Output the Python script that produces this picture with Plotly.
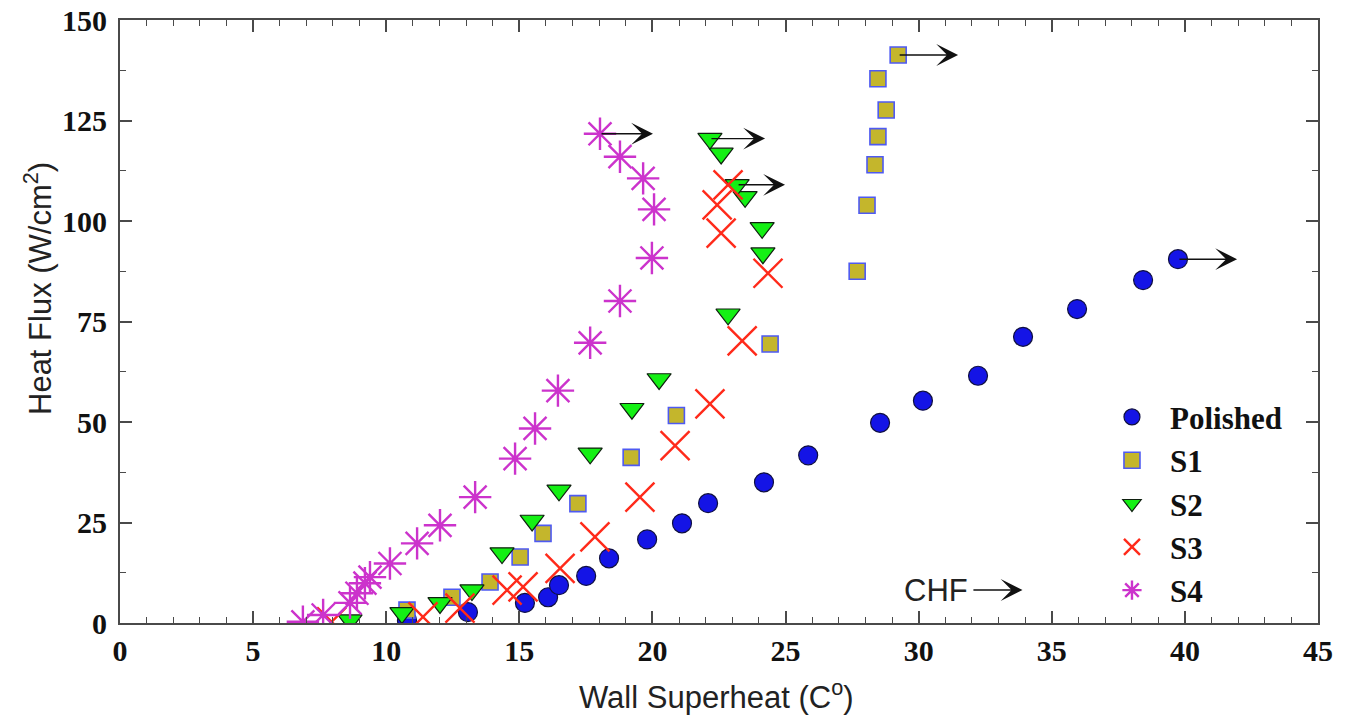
import plotly.graph_objects as go

# ---------------- data ----------------
pol_x = [10.78, 13.07, 15.21, 16.08, 16.49, 17.51, 18.37, 19.80, 21.11, 22.09,
         24.19, 25.85, 28.55, 30.16, 32.23, 33.92, 35.95, 38.43, 39.74]
pol_y = [0.7, 2.7, 5.0, 6.4, 9.4, 11.7, 16.1, 20.8, 24.8, 29.8,
         35.0, 41.7, 49.8, 55.3, 61.5, 71.2, 78.1, 85.3, 90.5]

s1_x = [10.78, 12.47, 13.90, 15.03, 15.89, 17.20, 19.20, 20.90, 24.42, 27.69,
        28.06, 28.36, 28.47, 28.78, 28.47, 29.23]
s1_y = [3.2, 6.4, 10.2, 16.4, 22.3, 29.7, 41.2, 51.6, 69.4, 87.5,
        103.9, 114.0, 121.0, 127.6, 135.4, 141.3]

s2_x = [8.64, 10.59, 12.02, 13.22, 14.35, 15.48, 16.49, 17.66, 19.23, 20.25,
        22.84, 24.15, 24.12, 23.48, 23.18, 22.58, 22.16]
s2_y = [0.7, 2.5, 5.0, 8.2, 17.4, 25.5, 33.0, 42.2, 53.3, 60.7,
        76.8, 92.0, 98.3, 106.0, 109.0, 116.8, 120.5]

s3_x = [7.95, 11.38, 12.77, 14.54, 15.14, 16.53, 17.84, 19.53, 20.85, 22.16,
        23.37, 24.34, 22.58, 22.43, 22.84]
s3_y = [0.3, 1.5, 3.7, 8.2, 9.0, 13.6, 21.4, 31.3, 44.1, 54.5,
        70.2, 87.0, 97.0, 104.0, 109.0]

s4_x = [6.87, 7.63, 8.64, 8.90, 9.20, 9.39, 10.14, 11.16, 12.02, 13.34,
        14.84, 15.59, 16.45, 17.66, 18.78, 19.98, 20.06, 19.65, 18.78, 18.03]
s4_y = [0.3, 2.0, 5.0, 7.4, 9.9, 11.4, 14.8, 19.8, 24.3, 31.3,
        40.9, 48.4, 57.8, 69.7, 80.1, 90.8, 102.9, 110.6, 116.0, 121.7]

series_names = ["Polished", "S1", "S2", "S3", "S4"]

# CHF arrows: (series name, index of the point the arrow starts from, arrow head x)
arrow_series = ["Polished", "S1", "S2", "S2", "S4"]
arrow_index = [-1, -1, -1, -3, -1]
arrow_head_x = [41.96, 31.48, 24.23, 24.98, 20.02]

# "CHF ->" key
chf_label = "CHF"
chf_text_x = 30.65
chf_y = 8.2
chf_arrow_x0 = 32.0
chf_arrow_x1 = 33.9

x_ticks = [0, 5, 10, 15, 20, 25, 30, 35, 40, 45]
y_ticks = [0, 25, 50, 75, 100, 125, 150]

x_title = "Wall Superheat (C<sup>o</sup>)"
y_title = "Heat Flux (W/cm<sup>2</sup>)"

# ---------------- figure ----------------
data = {
    "Polished": (pol_x, pol_y),
    "S1": (s1_x, s1_y),
    "S2": (s2_x, s2_y),
    "S3": (s3_x, s3_y),
    "S4": (s4_x, s4_y),
}

styles = {
    "Polished": dict(symbol="circle", size=19, color="#1414E6",
                     line=dict(color="#101040", width=1.2)),
    "S1": dict(symbol="square", size=16, color="#C4B62C",
               line=dict(color="#4E5AF2", width=1.6)),
    "S2": dict(symbol="triangle-down", size=21, color="#14F014",
               line=dict(color="#102010", width=1.2)),
    "S3": dict(symbol="x-thin-open", size=29, color="#FF2A1A",
               line=dict(color="#FF2A1A", width=2.4)),
    "S4": dict(symbol="asterisk-open", size=27, color="#CC33CC",
               line=dict(color="#CC33CC", width=2.4)),
}

fig = go.Figure()
for name in series_names:
    xs, ys = data[name]
    fig.add_trace(go.Scatter(x=xs, y=ys, mode="markers", name=f"<b>{name}</b>",
                             marker=styles[name]))

arrow_style = dict(xref="x", yref="y", axref="x", ayref="y", text="",
                   showarrow=True, arrowhead=3, arrowsize=2.6, arrowwidth=1.4,
                   arrowcolor="#111111", standoff=0, startstandoff=0)

annotations = []
for sname, idx, hx in zip(arrow_series, arrow_index, arrow_head_x):
    xs, ys = data[sname]
    annotations.append(dict(x=hx, y=ys[idx], ax=xs[idx], ay=ys[idx], **arrow_style))

annotations.append(dict(x=chf_arrow_x1, y=chf_y, ax=chf_arrow_x0, ay=chf_y, **arrow_style))
annotations.append(dict(
    x=chf_text_x, y=chf_y, xref="x", yref="y", text=chf_label,
    xanchor="center", yanchor="middle", showarrow=False,
    font=dict(family="Liberation Sans, Arial", size=31, color="#222222")))

# axis titles
annotations.append(dict(
    x=0.4975, y=-0.119, xref="paper", yref="paper", xanchor="center", yanchor="middle",
    text=x_title, showarrow=False,
    font=dict(family="Liberation Sans, Arial", size=31, color="#222222")))
annotations.append(dict(
    x=-0.0684, y=0.554, xref="paper", yref="paper", textangle=-90,
    xanchor="center", yanchor="middle",
    text=y_title, showarrow=False,
    font=dict(family="Liberation Sans, Arial", size=31, color="#222222")))

axis_common = dict(
    showline=True, linecolor="#4a4a4a", linewidth=2, mirror="ticks",
    ticks="inside", ticklen=12, tickwidth=1.5, tickcolor="#4a4a4a",
    showgrid=False, zeroline=False, automargin=False, ticklabeloverflow="allow",
    tickfont=dict(family="Liberation Serif, Times New Roman", size=30, color="#111111"),
)

fig.update_layout(
    width=1357, height=720,
    margin=dict(l=112, r=47, t=12, b=105, autoexpand=False),
    paper_bgcolor="white", plot_bgcolor="white",
    showlegend=True,
    legend=dict(x=0.813, y=0.386, xanchor="left", yanchor="top",
                bgcolor="rgba(0,0,0,0)", borderwidth=0, itemwidth=66,
                font=dict(family="Liberation Serif, Times New Roman", size=31,
                          color="#111111"),
                tracegroupgap=0),
    annotations=annotations,
    xaxis=dict(range=[0, 45], tickvals=x_ticks,
               ticktext=[f"<b>{v}</b>" for v in x_ticks],
               minor=dict(dtick=1, ticks="inside", ticklen=6, tickcolor="#4a4a4a", tickwidth=1.2),
               **axis_common),
    yaxis=dict(range=[0, 150], tickvals=y_ticks,
               ticktext=[f"<b>{v}</b>" for v in y_ticks], ticklabelstandoff=5,
               minor=dict(dtick=12.5, ticks="inside", ticklen=6, tickcolor="#4a4a4a", tickwidth=1.2),
               **axis_common),
)

fig.write_html("out.html")
